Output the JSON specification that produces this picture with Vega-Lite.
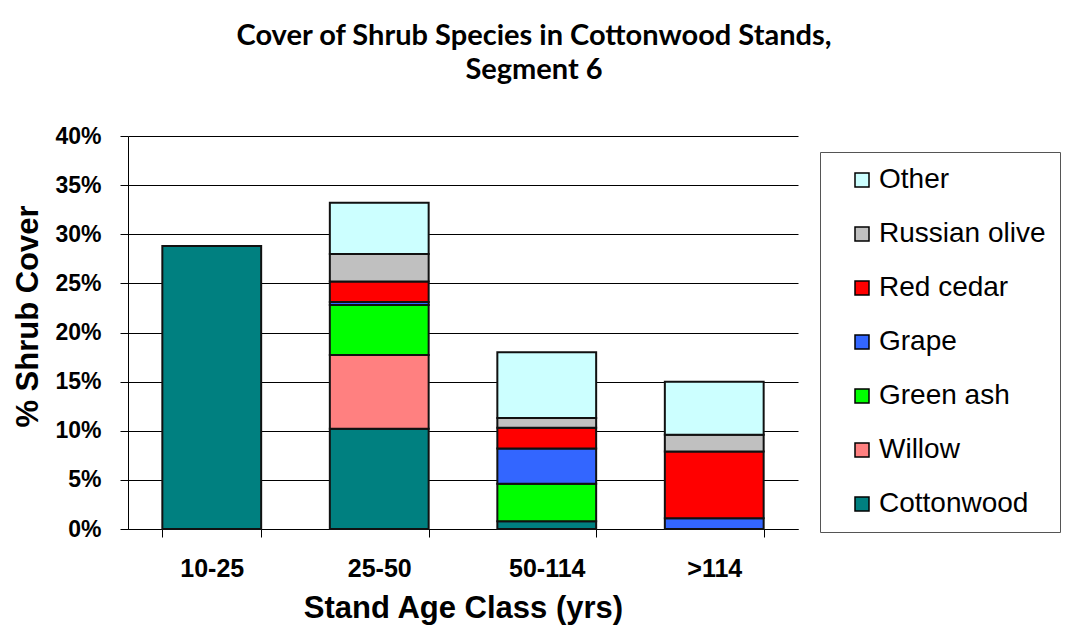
{
  "$schema": "https://vega.github.io/schema/vega-lite/v6.json",
  "width": 670,
  "height": 393,
  "autosize": {"type": "none"},
  "padding": {"left": 128, "top": 136, "right": 277, "bottom": 101},
  "background": "white",
  "title": {
    "text": ["Cover of Shrub Species in Cottonwood Stands,", "Segment 6"],
    "anchor": "middle",
    "frame": "group",
    "dx": 71,
    "offset": 40,
    "font": "Lato",
    "fontWeight": "bold",
    "fontSize": 29,
    "lineHeight": 34,
    "color": "black"
  },
  "data": {
    "values": [
      {"age": "10-25", "species": "Cottonwood", "cover": 0.288},
      {"age": "25-50", "species": "Cottonwood", "cover": 0.102},
      {"age": "25-50", "species": "Willow", "cover": 0.075},
      {"age": "25-50", "species": "Green ash", "cover": 0.051},
      {"age": "25-50", "species": "Grape", "cover": 0.003},
      {"age": "25-50", "species": "Red cedar", "cover": 0.021},
      {"age": "25-50", "species": "Russian olive", "cover": 0.028},
      {"age": "25-50", "species": "Other", "cover": 0.052},
      {"age": "50-114", "species": "Cottonwood", "cover": 0.008},
      {"age": "50-114", "species": "Green ash", "cover": 0.038},
      {"age": "50-114", "species": "Grape", "cover": 0.036},
      {"age": "50-114", "species": "Red cedar", "cover": 0.021},
      {"age": "50-114", "species": "Russian olive", "cover": 0.010},
      {"age": "50-114", "species": "Other", "cover": 0.067},
      {"age": ">114", "species": "Grape", "cover": 0.011},
      {"age": ">114", "species": "Red cedar", "cover": 0.068},
      {"age": ">114", "species": "Russian olive", "cover": 0.017},
      {"age": ">114", "species": "Other", "cover": 0.054}
    ]
  },
  "transform": [
    {"calculate": "indexof(['Cottonwood','Willow','Green ash','Grape','Red cedar','Russian olive','Other'], datum.species)", "as": "stackIndex"}
  ],
  "mark": {"type": "bar", "stroke": "#111", "strokeWidth": 2},
  "encoding": {
    "x": {
      "field": "age",
      "type": "nominal",
      "sort": null,
      "scale": {"paddingInner": 0.41, "paddingOuter": 0.205},
      "axis": {
        "title": "Stand Age Class (yrs)",
        "labelAngle": 0,
        "tickBand": "extent",
        "tickSize": 8,
        "tickColor": "black",
        "domainColor": "black",
        "labelFont": "Liberation Sans",
        "labelFontWeight": "bold",
        "labelFontSize": 25,
        "labelColor": "black",
        "labelPadding": 19,
        "titleFont": "Liberation Sans",
        "titleFontWeight": "bold",
        "titleFontSize": 31,
        "titleColor": "black",
        "titlePadding": 12
      }
    },
    "y": {
      "field": "cover",
      "type": "quantitative",
      "stack": "zero",
      "scale": {"domain": [0, 0.4], "nice": false},
      "axis": {
        "title": "% Shrub Cover",
        "values": [0, 0.05, 0.1, 0.15, 0.2, 0.25, 0.3, 0.35, 0.4],
        "format": ".0%",
        "grid": true,
        "gridColor": "black",
        "gridWidth": 1,
        "gridOpacity": 1,
        "tickSize": 8,
        "tickColor": "black",
        "domainColor": "black",
        "labelFont": "Liberation Sans",
        "labelFontWeight": "bold",
        "labelFontSize": 23,
        "labelColor": "black",
        "labelPadding": 19,
        "titleFont": "Liberation Sans",
        "titleFontWeight": "bold",
        "titleFontSize": 31,
        "titleColor": "black",
        "titlePadding": 10,
        "titleY": 180
      }
    },
    "color": {
      "field": "species",
      "type": "nominal",
      "scale": {
        "domain": ["Other", "Russian olive", "Red cedar", "Grape", "Green ash", "Willow", "Cottonwood"],
        "range": ["#CCFFFF", "#C0C0C0", "#FF0000", "#3366FF", "#00FF00", "#FF8080", "#008080"]
      },
      "legend": {
        "title": null,
        "orient": "none",
        "legendX": 692,
        "legendY": 16,
        "padding": 14,
        "strokeColor": "#555",
        "fillColor": "white",
        "symbolType": "square",
        "symbolSize": 196,
        "symbolStrokeColor": "black",
        "symbolStrokeWidth": 1.5,
        "symbolOpacity": 1,
        "symbolOffset": 14,
        "labelFont": "Liberation Sans",
        "labelFontSize": 28,
        "labelColor": "black",
        "labelOffset": 3,
        "labelLimit": 300,
        "rowPadding": 26
      }
    },
    "order": {"field": "stackIndex", "type": "quantitative", "sort": "ascending"}
  },
  "config": {
    "view": {"stroke": null}
  }
}
